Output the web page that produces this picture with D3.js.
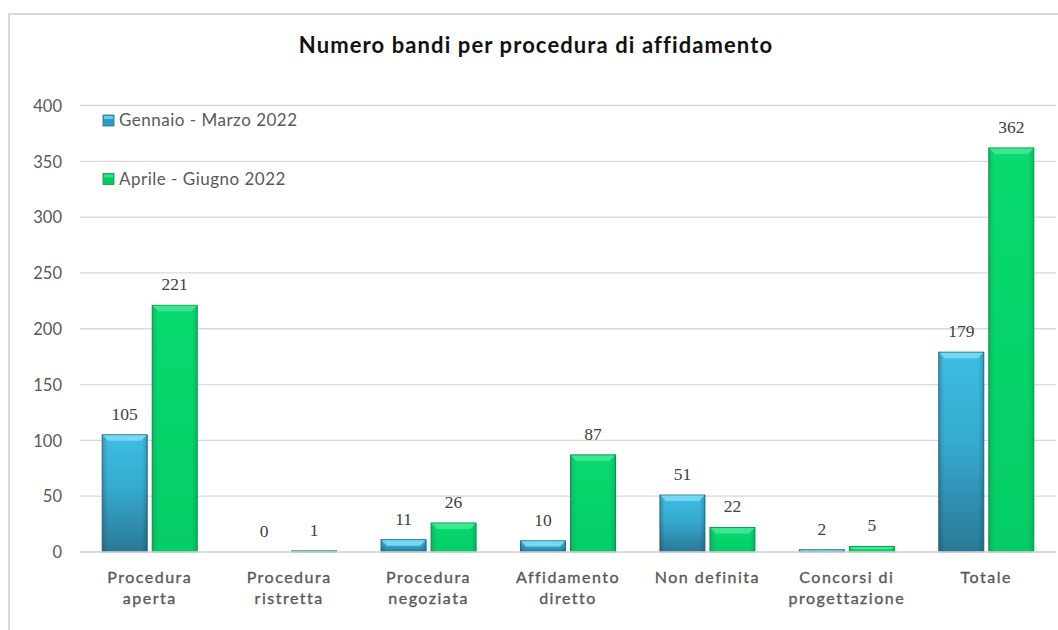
<!DOCTYPE html>
<html>
<head>
<meta charset="utf-8">
<script src="https://cdn.jsdelivr.net/npm/d3@7"></script>
<style>
  html, body { margin: 0; padding: 0; background: #fff; }
  svg { display: block; }
</style>
</head>
<body>
<svg id="chart" width="1058" height="630"></svg>
<script>
const title = "Numero bandi per procedura di affidamento";
const categories = [
  ["Procedura", "aperta"],
  ["Procedura", "ristretta"],
  ["Procedura", "negoziata"],
  ["Affidamento", "diretto"],
  ["Non definita"],
  ["Concorsi di", "progettazione"],
  ["Totale"]
];
const seriesNames = ["Gennaio - Marzo 2022", "Aprile - Giugno 2022"];
const q1Values = [105, 0, 11, 10, 51, 2, 179];
const q2Values = [221, 1, 26, 87, 22, 5, 362];
const yTicks = [0, 50, 100, 150, 200, 250, 300, 350, 400];

const series = [
  { name: seriesNames[0], values: q1Values, key: "blue" },
  { name: seriesNames[1], values: q2Values, key: "green" }
];

const svg = d3.select("#chart");
const plot = { left: 80, right: 1056, top: 105.5, bottom: 552 };

// frame
svg.append("path")
  .attr("d", `M9,640 L9,14 L1060,14`)
  .attr("fill", "none").attr("stroke", "#d9d9d9").attr("stroke-width", 2);

// gradients
const defs = svg.append("defs");
const gBlue = defs.append("linearGradient").attr("id", "gblue").attr("x1", 0).attr("y1", 0).attr("x2", 0).attr("y2", 1);
gBlue.append("stop").attr("offset", "0%").attr("stop-color", "#3dbee4");
gBlue.append("stop").attr("offset", "45%").attr("stop-color", "#36aad0");
gBlue.append("stop").attr("offset", "100%").attr("stop-color", "#2a7895");
const gShade = defs.append("linearGradient").attr("id", "gshade").attr("x1", 0).attr("y1", 0).attr("x2", 1).attr("y2", 0);
gShade.append("stop").attr("offset", "0%").attr("stop-color", "#000").attr("stop-opacity", 0.18);
gShade.append("stop").attr("offset", "12%").attr("stop-color", "#000").attr("stop-opacity", 0);
gShade.append("stop").attr("offset", "88%").attr("stop-color", "#000").attr("stop-opacity", 0);
gShade.append("stop").attr("offset", "100%").attr("stop-color", "#000").attr("stop-opacity", 0.18);
const gGreen = defs.append("linearGradient").attr("id", "ggreen").attr("x1", 0).attr("y1", 0).attr("x2", 0).attr("y2", 1);
gGreen.append("stop").attr("offset", "0%").attr("stop-color", "#08da70");
gGreen.append("stop").attr("offset", "100%").attr("stop-color", "#05cc66");

const fills = { blue: "url(#gblue)", green: "url(#ggreen)" };
const strokes = { blue: "#25708c", green: "#0b9a52" };
const caps = { blue: "#74d8f2", green: "#3fe593" };
const legendColors = { blue: "#2f9cc6", green: "#0bc862" };

const x0 = d3.scaleBand().domain(d3.range(categories.length)).range([plot.left, plot.right]).paddingInner(0).paddingOuter(0);
const x1 = d3.scaleBand().domain([0, 1]).range([0, x0.bandwidth()]).paddingOuter(0.444).paddingInner(0.1);
const y = d3.scaleLinear().domain([0, 400]).range([plot.bottom, plot.top]);

// gridlines
svg.append("g").selectAll("line").data(yTicks).join("line")
  .attr("x1", plot.left).attr("x2", plot.right)
  .attr("y1", d => y(d)).attr("y2", d => y(d))
  .attr("stroke", "#d9d9d9").attr("stroke-width", 1.3);

// y axis labels
const yAxis = d3.axisLeft(y).tickValues(yTicks).tickSize(0).tickPadding(0);
const ya = svg.append("g").attr("transform", `translate(62,0)`).call(yAxis);
ya.select(".domain").remove();
ya.selectAll("text").attr("font-family", "Lato, 'Open Sans', sans-serif").attr("font-size", 16.5)
  .attr("fill", "#595959").attr("dy", "0.35em");

// bars
series.forEach((s, si) => {
  const g = svg.append("g");
  s.values.forEach((v, ci) => {
    const bx = x0(ci) + x1(si);
    const bw = x1.bandwidth();
    const by = y(v);
    const bh = y(0) - y(v);
    if (bh > 0.5) {
      g.append("rect").attr("x", bx).attr("y", by).attr("width", bw).attr("height", bh)
        .attr("fill", fills[s.key]).attr("stroke", strokes[s.key]).attr("stroke-width", 1);
      g.append("rect").attr("x", bx).attr("y", by).attr("width", bw).attr("height", bh)
        .attr("fill", "url(#gshade)").attr("opacity", s.key === "blue" ? 1 : 0.7);
      const capH = Math.min(6, bh / 2);
      const inset = Math.min(6, bh / 2);
      g.append("path")
        .attr("d", `M${bx + 0.5},${by + 0.5} L${bx + bw - 0.5},${by + 0.5} L${bx + bw - inset},${by + capH} L${bx + inset},${by + capH} Z`)
        .attr("fill", caps[s.key]);
    }
    g.append("text")
      .attr("x", bx + bw / 2).attr("y", by - 15)
      .attr("text-anchor", "middle")
      .attr("font-family", "'Liberation Serif', 'DejaVu Serif', serif")
      .attr("font-size", 17.5).attr("fill", "#404040")
      .text(v);
  });
});

// baseline
svg.append("line").attr("x1", plot.left).attr("x2", plot.right)
  .attr("y1", y(0)).attr("y2", y(0)).attr("stroke", "#d9d9d9").attr("stroke-width", 1.5);

// x labels
const xl = svg.append("g");
categories.forEach((lines, ci) => {
  const t = xl.append("text")
    .attr("x", x0(ci) + x0.bandwidth() / 2).attr("y", 583)
    .attr("text-anchor", "middle")
    .attr("font-family", "Lato, 'Open Sans', sans-serif")
    .attr("font-size", 16).attr("fill", "#595959")
    .attr("stroke", "#595959").attr("stroke-width", 0.35)
    .attr("letter-spacing", "1.5px");
  lines.forEach((ln, li) => {
    t.append("tspan").attr("x", x0(ci) + x0.bandwidth() / 2).attr("dy", li === 0 ? 0 : 21).text(ln);
  });
});

// title
svg.append("text").attr("x", 536).attr("y", 53)
  .attr("text-anchor", "middle")
  .attr("font-family", "Lato, 'Open Sans', sans-serif")
  .attr("font-weight", "bold").attr("font-size", 22).attr("fill", "#111")
  .attr("letter-spacing", "1.1px")
  .text(title);

// legend
const legendY = [120.5, 179];
series.forEach((s, si) => {
  const lg = svg.append("g").attr("transform", `translate(103,${legendY[si]})`);
  lg.append("rect").attr("x", 0).attr("y", -5.5).attr("width", 11).attr("height", 11)
    .attr("fill", legendColors[s.key]).attr("stroke", strokes[s.key]).attr("stroke-width", 0.8);
  lg.append("rect").attr("x", 1).attr("y", -4.5).attr("width", 9).attr("height", 3)
    .attr("fill", caps[s.key]).attr("opacity", 0.8);
  lg.append("text").attr("x", 16).attr("y", 0).attr("dy", "0.35em")
    .attr("font-family", "Lato, 'Open Sans', sans-serif")
    .attr("font-size", 17).attr("fill", "#595959")
    .attr("letter-spacing", "0.5px")
    .text(s.name);
});
</script>
</body>
</html>
